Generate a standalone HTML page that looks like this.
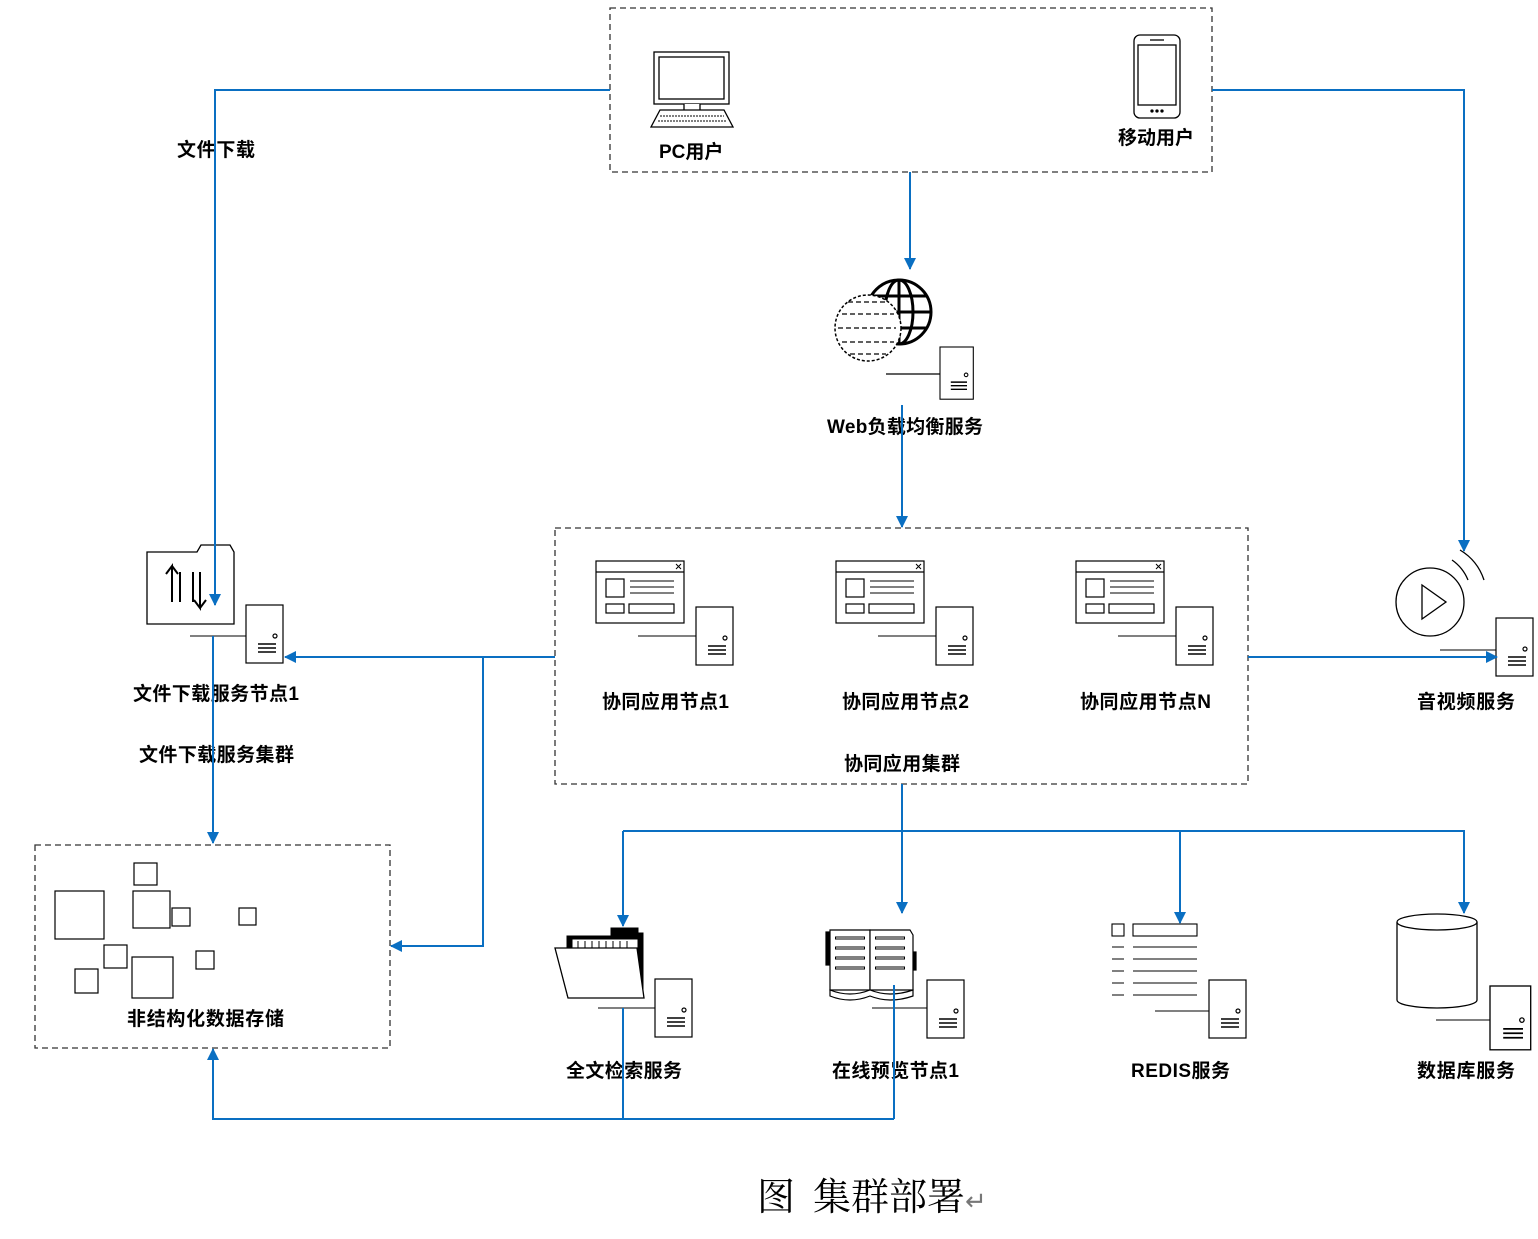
<!DOCTYPE html>
<html><head><meta charset="utf-8"><style>
body{margin:0;background:#fff}
svg text{font-family:"Liberation Sans","Noto Sans CJK SC",sans-serif;font-weight:bold;font-size:19px;fill:#000}
</style></head><body>
<svg width="1538" height="1234" viewBox="0 0 1538 1234" xmlns="http://www.w3.org/2000/svg">
<defs>
<marker id="a" markerWidth="12" markerHeight="12" refX="11" refY="6" orient="auto" markerUnits="userSpaceOnUse">
<path d="M0,0 L12,6 L0,12 z" fill="#0a6fc2"/></marker>
<g id="srv" fill="none" stroke="#000" stroke-width="1.2">
<rect x="0" y="0" width="37" height="58" fill="#fff"/>
<circle cx="29" cy="31" r="2"/>
<path d="M12 39h18M12 43h18M12 47h18" stroke-width="1.6"/>
</g>
<g id="win" fill="#fff" stroke="#000" stroke-width="1.2">
<rect x="0" y="0" width="88" height="62"/>
<path d="M0 11h88"/>
<path d="M80 3l5 5M85 3l-5 5" stroke-width="1"/>
<rect x="10" y="18" width="18" height="18"/>
<path d="M34 20h44M34 26h44M34 32h44" stroke-width="1"/>
<rect x="10" y="43" width="18" height="9"/>
<rect x="33" y="43" width="45" height="9"/>
</g>
</defs>

<g fill="none" stroke="#333" stroke-width="1.3" stroke-dasharray="6,4">
<rect x="610" y="8" width="602" height="164"/>
<rect x="555" y="528" width="693" height="256"/>
<rect x="35" y="845" width="355" height="203"/>
</g>

<g fill="#fff" stroke="#000" stroke-width="1.3">
<rect x="654" y="52" width="75" height="52"/>
<rect x="659" y="57" width="65" height="42"/>
<path d="M684 104v6h16v-6M660 110h64l9 17h-82z"/>
<path d="M660 116h64M658 121h68" stroke-width="1" stroke-dasharray="2,1"/>
<rect x="1134" y="35" width="46" height="83" rx="6"/>
<rect x="1138" y="45" width="38" height="60"/>
<path d="M1150 40h14"/>
<circle cx="1152" cy="111" r="1" fill="#000"/><circle cx="1157" cy="111" r="1" fill="#000"/><circle cx="1162" cy="111" r="1" fill="#000"/>
</g>
<text x="659" y="158">PC用户</text>
<text x="1118" y="144">移动用户</text>

<g fill="none" stroke="#000" stroke-width="3">
<circle cx="899" cy="312" r="32"/>
<ellipse cx="899" cy="312" rx="14" ry="32"/>
<path d="M899 280v64M867 312h64M872 296h54M872 328h54"/>
</g>
<circle cx="868" cy="328" r="33" fill="#fff" stroke="#000" stroke-width="1.5" stroke-dasharray="3,2"/>
<g stroke="#000" stroke-width="1.2" stroke-dasharray="5,3">
<path d="M842 314h52M838 328h58M842 342h52M848 302h40M850 354h36"/>
</g>
<use href="#srv" x="940" y="347" transform="translate(940,347) scale(0.9) translate(-940,-347)"/>
<path d="M886 374H940" stroke="#000" stroke-width="1.2"/>
<text x="827" y="433" textLength="156">Web负载均衡服务</text>

<g fill="#fff" stroke="#000" stroke-width="1.3">
<path d="M147 552h50l4-7h29l4 7v72h-87z"/>
<path d="M172 602v-36l-6 8M172 566l6 8M200 572v36l-6-8M200 608l6-8M180 602v-30M193 572v30" fill="none" stroke-width="2"/>
</g>
<use href="#srv" x="246" y="605"/>
<path d="M190 636H246" stroke="#000"/>
<text x="133" y="700" textLength="166">文件下载服务节点1</text>
<text x="139" y="761" textLength="155">文件下载服务集群</text>
<text x="177" y="156" textLength="78">文件下载</text>

<use href="#win" x="596" y="561"/><use href="#srv" x="696" y="607"/><path d="M638 636H696" stroke="#000"/>
<use href="#win" x="836" y="561"/><use href="#srv" x="936" y="607"/><path d="M878 636H936" stroke="#000"/>
<use href="#win" x="1076" y="561"/><use href="#srv" x="1176" y="607"/><path d="M1118 636H1176" stroke="#000"/>
<text x="602" y="708" textLength="127">协同应用节点1</text>
<text x="842" y="708" textLength="127">协同应用节点2</text>
<text x="1080" y="708" textLength="131">协同应用节点N</text>
<text x="844" y="770" textLength="116">协同应用集群</text>

<g fill="none" stroke="#000" stroke-width="1.3">
<circle cx="1430" cy="602" r="34"/>
<path d="M1422 585v34l24-17z"/>
<path d="M1452 560a45 45 0 0 1 16 20M1460 550a55 55 0 0 1 24 30"/>
</g>
<use href="#srv" x="1496" y="618"/><path d="M1440 650H1496" stroke="#000"/>
<text x="1417" y="708" textLength="98">音视频服务</text>

<g fill="#fff" stroke="#000" stroke-width="1.2">
<rect x="55" y="891" width="49" height="48"/>
<rect x="134" y="863" width="23" height="22"/>
<rect x="133" y="891" width="37" height="37"/>
<rect x="172" y="908" width="18" height="18"/>
<rect x="239" y="908" width="17" height="17"/>
<rect x="104" y="945" width="23" height="23"/>
<rect x="75" y="969" width="23" height="24"/>
<rect x="132" y="957" width="41" height="41"/>
<rect x="196" y="951" width="18" height="18"/>
</g>
<text x="127" y="1025" textLength="157">非结构化数据存储</text>

<g stroke="#000">
<path d="M567 936h44v-8h27v5h5v62h-76z" fill="#000"/>
<path d="M572 939h66v52h-66z" fill="#fff"/>
<path d="M578 941v7M585 941v7M592 941v7M599 941v7M606 941v7M613 941v7M620 941v7M627 941v7" stroke-width="1"/>
<path d="M555 948h82l7 50h-76z" fill="#fff" stroke-width="1.3"/>
</g>
<use href="#srv" x="655" y="979"/><path d="M598 1008H655" stroke="#000"/>
<text x="566" y="1077" textLength="116">全文检索服务</text>

<g fill="#fff" stroke="#000" stroke-width="1.2">
<rect x="826" y="932" width="4" height="33" fill="#000"/>
<rect x="912" y="952" width="4" height="18" fill="#000"/>
<path d="M830 930h40v60h-40z"/>
<path d="M870 930h40l3 5v55h-43z"/>
<path d="M830 990q20 8 40 0q20 8 43 0v6q-23 8-43 0q-20 8-40 0z"/>
<path d="M835 938h30M835 948h30M835 958h30M835 968h30M875 938h30M875 948h30M875 958h30M875 968h30" stroke-width="3"/>
<path d="M836 938h28M836 948h28M836 958h28M836 968h28M876 938h28M876 948h28M876 958h28M876 968h28" stroke="#fff" stroke-width="1"/>
</g>
<use href="#srv" x="927" y="980"/><path d="M872 1008H927" stroke="#000"/>
<text x="832" y="1077" textLength="127">在线预览节点1</text>

<g fill="#fff" stroke="#000" stroke-width="1.1">
<rect x="1112" y="924" width="12" height="12"/>
<rect x="1133" y="924" width="64" height="12"/>
<path d="M1112 947h12M1133 947h64M1112 959h12M1133 959h64M1112 971h12M1133 971h64M1112 983h12M1133 983h64M1112 995h12M1133 995h64"/>
</g>
<use href="#srv" x="1209" y="980"/><path d="M1155 1011H1209" stroke="#000"/>
<text x="1131" y="1077" textLength="99">REDIS服务</text>

<g fill="#fff" stroke="#000" stroke-width="1.3">
<path d="M1397 922v78a40 8 0 0 0 80 0v-78"/>
<ellipse cx="1437" cy="922" rx="40" ry="8"/>
</g>
<use href="#srv" x="1490" y="986" transform="translate(1490,986) scale(1.1) translate(-1490,-986)"/>
<path d="M1436 1020H1490" stroke="#000"/>
<text x="1417" y="1077" textLength="98">数据库服务</text>

<g fill="none" stroke="#0a6fc2" stroke-width="2">
<path d="M610 90H215V605" marker-end="url(#a)"/>
<path d="M213 636V843" marker-end="url(#a)"/>
<path d="M1212 90H1464V551" marker-end="url(#a)"/>
<path d="M910 172V269" marker-end="url(#a)"/>
<path d="M902 405V527" marker-end="url(#a)"/>
<path d="M555 657H285" marker-end="url(#a)"/>
<path d="M483 657V946H391" marker-end="url(#a)"/>
<path d="M1248 657H1497" marker-end="url(#a)"/>
<path d="M902 784V913" marker-end="url(#a)"/>
<path d="M623 831H1464V913" marker-end="url(#a)"/>
<path d="M623 831V926" marker-end="url(#a)"/>
<path d="M1180 831V923" marker-end="url(#a)"/>
<path d="M623 1008V1119M894 985V1119M894 1119H213V1049" marker-end="url(#a)"/>
</g>

<text x="757" y="1210" style="font-family:'Liberation Serif','Noto Serif CJK SC',serif;font-weight:normal;font-size:38px">图<tspan dx="18">集群部署</tspan><tspan font-size="26" fill="#777">↵</tspan></text>
</svg>
</body></html>
